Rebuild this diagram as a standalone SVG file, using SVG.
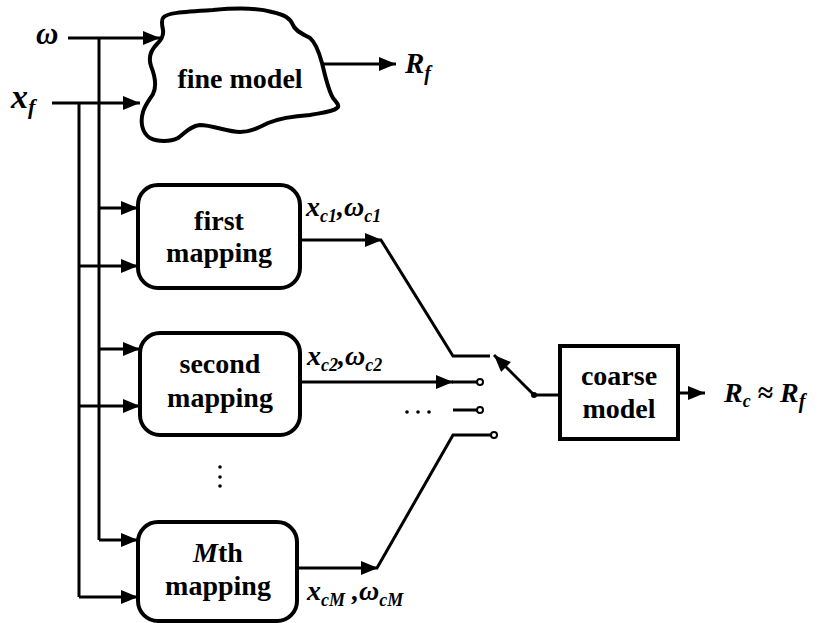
<svg xmlns="http://www.w3.org/2000/svg" width="818" height="623" viewBox="0 0 818 623">
<defs>
<marker id="ah" markerUnits="userSpaceOnUse" markerWidth="19" markerHeight="15" refX="17" refY="7" orient="auto">
<path d="M0,0 L17,7 L0,14 Z" fill="#000"/>
</marker>
<style>
.ln{fill:none;stroke:#000;stroke-width:3;stroke-linejoin:miter}
.ar{fill:none;stroke:#000;stroke-width:3;marker-end:url(#ah)}
.bx{fill:#fff;stroke:#000;stroke-width:4}
.t{font-family:"Liberation Serif","Times New Roman",serif;font-size:28px;font-weight:bold;text-anchor:middle;fill:#000}
.m{font-family:"Liberation Serif","Times New Roman",serif;font-style:italic;font-weight:bold;fill:#000}
.dot{fill:#000}
.sw{fill:#fff;stroke:#000;stroke-width:2}
</style>
</defs>
<rect width="818" height="623" fill="#fff"/>
<g id="connectors">
<path class="ar" d="M68,38 H160"/>
<path class="ar" d="M52,103 H140"/>
<path class="ln" d="M99,38 V540"/>
<path class="ln" d="M79,103 V597"/>
<path class="ar" d="M99,208 H138"/>
<path class="ar" d="M79,266 H138"/>
<path class="ar" d="M99,349 H140"/>
<path class="ar" d="M79,406 H140"/>
<path class="ar" d="M99,540 H138"/>
<path class="ar" d="M79,597 H138"/>
<path class="ar" d="M320,64 H396"/>
<path class="ar" d="M300,240 H382"/>
<path class="ln" d="M381,240 L453,356 H490"/>
<path class="ar" d="M300,382 H453"/>
<path class="ln" d="M452,382 H477"/>
<path class="ln" d="M453,410 H477"/>
<path class="ar" d="M297,568 H378"/>
<path class="ln" d="M377,568 L453,435 H491"/>
<path class="ar" d="M534,395 L494,355"/>
<path class="ln" d="M534,395 H560"/>
<circle class="dot" cx="534" cy="395" r="3"/>
<circle class="sw" cx="480" cy="382" r="3"/>
<circle class="sw" cx="480" cy="410" r="3"/>
<circle class="sw" cx="494" cy="435" r="3"/>
<path class="ar" d="M678,393 H705"/>
<circle class="dot" cx="407" cy="412" r="1.8"/>
<circle class="dot" cx="418" cy="412" r="1.8"/>
<circle class="dot" cx="429" cy="412" r="1.8"/>
<circle class="dot" cx="220" cy="467" r="1.8"/>
<circle class="dot" cx="220" cy="477" r="1.8"/>
<circle class="dot" cx="220" cy="486" r="1.8"/>
</g>
<g id="fine-model">
<path class="bx" d="M163,18 C166,13 180,12 213,10 C235,8 258,8 272,12 C285,15 290,18 293,25 C295,31 303,34 310,38 C316,43 319,52 322,63 C325,75 328,90 333,98 C337,103 340,106 337,108 C333,112 320,113 310,115 C295,116 280,118 268,123 C258,128 250,132 240,132 C228,132 212,125 200,125 C190,126 185,133 178,138 C170,142 158,142 150,138 C142,133 140,122 143,112 C145,105 150,99 153,94 C157,86 155,76 151,66 C148,57 151,50 157,44 C161,40 164,36 163,30 C162,25 161,21 163,18 Z"/>
<text class="t" x="240" y="88">fine model</text>
</g>
<g id="first-mapping">
<rect class="bx" x="138" y="185" width="162" height="103" rx="20"/>
<text class="t" x="219" y="230">first</text>
<text class="t" x="219" y="262">mapping</text>
</g>
<g id="second-mapping">
<rect class="bx" x="140" y="333" width="160" height="102" rx="20"/>
<text class="t" x="220" y="373">second</text>
<text class="t" x="220" y="407">mapping</text>
</g>
<g id="mth-mapping">
<rect class="bx" x="138" y="522" width="159" height="99" rx="20"/>
<text class="t" x="218" y="562"><tspan font-style="italic">M</tspan>th</text>
<text class="t" x="218" y="595">mapping</text>
</g>
<g id="coarse-model">
<rect class="bx" x="560" y="346" width="118" height="93"/>
<text class="t" x="619" y="385">coarse</text>
<text class="t" x="619" y="418">model</text>
</g>
<g id="labels">
<text class="m" x="36" y="44" font-size="31">ω</text>
<text class="m" x="11" y="108" font-size="34">x<tspan font-size="22" dy="6">f</tspan></text>
<text class="m" x="405" y="73" font-size="29">R<tspan font-size="20" dy="7">f</tspan></text>
<text class="m" x="306" y="216" font-size="28">x<tspan font-size="18" dy="6">c1</tspan><tspan dy="-6" font-size="28">,ω</tspan><tspan font-size="18" dy="6">c1</tspan></text>
<text class="m" x="307" y="365" font-size="28">x<tspan font-size="18" dy="6">c2</tspan><tspan dy="-6" font-size="28">,ω</tspan><tspan font-size="18" dy="6">c2</tspan></text>
<text class="m" x="307" y="600" font-size="28">x<tspan font-size="18" dy="6">cM</tspan><tspan dy="-6" font-size="28"> ,ω</tspan><tspan font-size="18" dy="6">cM</tspan></text>
<text class="m" x="724" y="402" font-size="28">R<tspan font-size="18" dy="5">c</tspan><tspan dy="-5" font-style="normal"> ≈ </tspan>R<tspan font-size="20" dy="6">f</tspan></text>
</g>
</svg>
